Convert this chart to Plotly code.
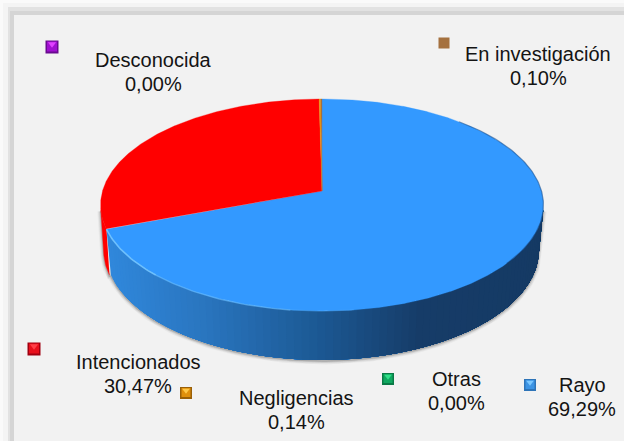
import math
import plotly.graph_objects as go

# ---- data ----
categories = ["Rayo", "Intencionados", "Negligencias", "En investigación", "Desconocida", "Otras"]
values = [69.29, 30.47, 0.14, 0.10, 0.00, 0.00]

# ---- styles / layout ----
W, H = 624, 441
slice_colors = ["#3399FF", "#FF0000", "#E8960C", "#A5713F", "#A010D0", "#10A860"]
marker_styles = {
    "Rayo": ("#2E74B8", "#3D94E4", "#7CC8FF"),
    "Intencionados": ("#A00010", "#E8101C", "#FF4048"),
    "Negligencias": ("#9A6008", "#E0900C", "#FFC848"),
    "En investigación": ("#A5713F", "#A5713F", "#A5713F"),
    "Desconocida": ("#6A0A90", "#A010D0", "#E040FF"),
    "Otras": ("#0A7A46", "#10A860", "#30E088"),
}
marker_pos = {
    "Desconocida": (52, 47, 13), "En investigación": (444, 43, 11),
    "Intencionados": (34, 349, 13), "Negligencias": (186, 393, 12),
    "Otras": (388, 379, 12), "Rayo": (530, 385, 12),
}
label_pos = {
    "Desconocida": (153, 60), "En investigación": (538, 54),
    "Intencionados": (138, 362), "Negligencias": (296, 398),
    "Otras": (456, 379), "Rayo": (582, 385),
}
LINE_GAP = 24
TOP = dict(cx=322, cy=191, k=104.2, a=219.5)
BOT = dict(cx=322, cy=235.4, k=108.1, a=215.0)
BOT_RED = dict(cx=322, cy=235.4, k=108.1, a=216.5)
P = -0.132
LEFT_EXTREME = 72.1    # where the disc is widest on the left (percent round the rim)
RIGHT_EXTREME = 27.9   # and on the right


def project(pct, d):
    """Percent position clockwise from 12 o'clock -> picture position, with perspective."""
    t = math.radians(pct * 3.6)
    u, v = math.sin(t), -math.cos(t)
    w = 1 + P * v
    return d["cx"] + d["a"] * u / w, d["cy"] + d["k"] * v / w


def arc(p0, p1, d, step=0.25):
    n = max(2, int(abs(p1 - p0) / step) + 1)
    pts = [project(p0 + (p1 - p0) * i / (n - 1), d) for i in range(n)]
    return [p[0] for p in pts], [p[1] for p in pts]


def lerp_hex(c0, c1, f):
    a = [int(c0[i:i + 2], 16) for i in (1, 3, 5)]
    b = [int(c1[i:i + 2], 16) for i in (1, 3, 5)]
    return "#" + "".join(f"{round(x + (y - x) * f):02X}" for x, y in zip(a, b))


def side_color(x):
    stops = [(105, "#3088DC"), (200, "#2A76C0"), (312, "#1C5A96"), (420, "#163C68"), (545, "#153A64")]
    for (x0, c0), (x1, c1) in zip(stops, stops[1:]):
        if x <= x1:
            return lerp_hex(c0, c1, max(0, (x - x0) / (x1 - x0)))
    return stops[-1][1]


fig = go.Figure()


def poly(xs, ys, color, lw=0):
    fig.add_trace(go.Scatter(x=xs, y=ys, mode="lines", fill="toself", fillcolor=color,
                             line=dict(color=color, width=lw), hoverinfo="skip", showlegend=False))


def stroke(xs, ys, color, width):
    fig.add_trace(go.Scatter(x=xs, y=ys, mode="lines", line=dict(color=color, width=width),
                             hoverinfo="skip", showlegend=False))


rayo_end = values[0]

# soft shadow round the side wall
tr = project(RIGHT_EXTREME, TOP)
tl = project(LEFT_EXTREME, TOP)
bx, by = arc(RIGHT_EXTREME, rayo_end, BOT)
rx, ry = arc(rayo_end, LEFT_EXTREME, BOT_RED)
sx = [tr[0]] + bx + rx + [tl[0]]
sy = [tr[1]] + by + ry + [tl[1]]
for width, alpha in [(7, 0.05), (5, 0.09), (3, 0.14), (1.5, 0.2)]:
    stroke(sx, [y + 1 for y in sy], f"rgba(70,70,70,{alpha})", width)

# side wall: red part
x0, y0 = arc(rayo_end, LEFT_EXTREME, TOP)
x1, y1 = arc(LEFT_EXTREME, rayo_end, BOT_RED)
poly(x0 + x1, y0 + y1, slice_colors[1], 0.4)

# blue wall: nested shapes, each covering everything still to be shaded, so there are no seams
STEP = 0.5
s = rayo_end
while s > RIGHT_EXTREME:
    x0, y0 = arc(RIGHT_EXTREME, s, TOP, 0.5)
    x1, y1 = arc(s, RIGHT_EXTREME, BOT, 0.5)
    poly(x0 + x1, y0 + y1, side_color(project(s - STEP / 2, TOP)[0]), 0)
    s -= STEP

# top faces
start = 0.0
for val, col in zip(values, slice_colors):
    if val > 0:
        xs, ys = arc(start, start + val, TOP, 0.1)
        poly([TOP["cx"]] + xs + [TOP["cx"]], [TOP["cy"]] + ys + [TOP["cy"]], col, 0.3)
    start += val

# bevel along the front rim of the top face
b0 = [(rayo_end, 62, "rgba(120,200,255,0.85)", 1.6), (62, 52, "rgba(120,200,255,0.5)", 1.4),
      (52, 48, "rgba(120,200,255,0.2)", 1.2)]
for a, b, col, w in b0:
    xs, ys = arc(a, b, TOP)
    stroke(xs, ys, col, w)
xs, ys = arc(12, 36, TOP)
stroke(xs, ys, "rgba(20,60,110,0.45)", 1.2)

# legend keys
for name, (x, y, size) in marker_pos.items():
    base, mid, hi = marker_styles[name]
    fig.add_trace(go.Scatter(x=[x], y=[y], mode="markers", hoverinfo="skip", showlegend=False,
                             marker=dict(symbol="square", size=size, color=base, line=dict(width=0))))
    if base != mid:
        fig.add_trace(go.Scatter(x=[x], y=[y - 0.5], mode="markers", hoverinfo="skip", showlegend=False,
                                 marker=dict(symbol="square", size=size - 3, color=mid, line=dict(width=0))))
        fig.add_trace(go.Scatter(x=[x], y=[y - size * 0.22], mode="markers", hoverinfo="skip", showlegend=False,
                                 marker=dict(symbol="triangle-down", size=size * 0.55, color=hi, line=dict(width=0))))

# labels: name line and value line
annotations = []
for name, val in zip(categories, values):
    x, y = label_pos[name]
    for text, yy in [(name, y), (f"{val:.2f}%".replace(".", ","), y + LINE_GAP)]:
        annotations.append(dict(x=x, y=yy, xref="x", yref="y", showarrow=False, xanchor="center", yanchor="middle",
                                text=text, font=dict(family="Liberation Sans", size=20, color="#141414")))

shapes = [
    dict(type="rect", xref="x", yref="y", x0=0, y0=0, x1=W, y1=H, fillcolor="#FAFAFA", line_width=0, layer="below"),
    dict(type="rect", xref="x", yref="y", x0=3, y0=3, x1=W, y1=H, fillcolor="#F4F4F4", line_width=0, layer="below"),
    dict(type="rect", xref="x", yref="y", x0=8, y0=7, x1=W, y1=H, fillcolor="#E2E2E2", line_width=0, layer="below"),
    dict(type="rect", xref="x", yref="y", x0=10, y0=11, x1=W, y1=H, fillcolor="#D5D5D5", line_width=0, layer="below"),
    dict(type="rect", xref="x", yref="y", x0=14, y0=15, x1=W, y1=H, fillcolor="#F2F2F2", line_width=0, layer="below"),
]

fig.update_layout(
    width=W, height=H, margin=dict(l=0, r=0, t=0, b=0), paper_bgcolor="#FAFAFA", plot_bgcolor="#FAFAFA",
    showlegend=False, shapes=shapes, annotations=annotations, hovermode=False,
    xaxis=dict(range=[0, W], visible=False, fixedrange=True),
    yaxis=dict(range=[H, 0], visible=False, fixedrange=True),
)
fig.write_html("out.html", config=dict(displayModeBar=False),
               post_script="document.body.style.margin='0';document.body.style.overflow='hidden';")
